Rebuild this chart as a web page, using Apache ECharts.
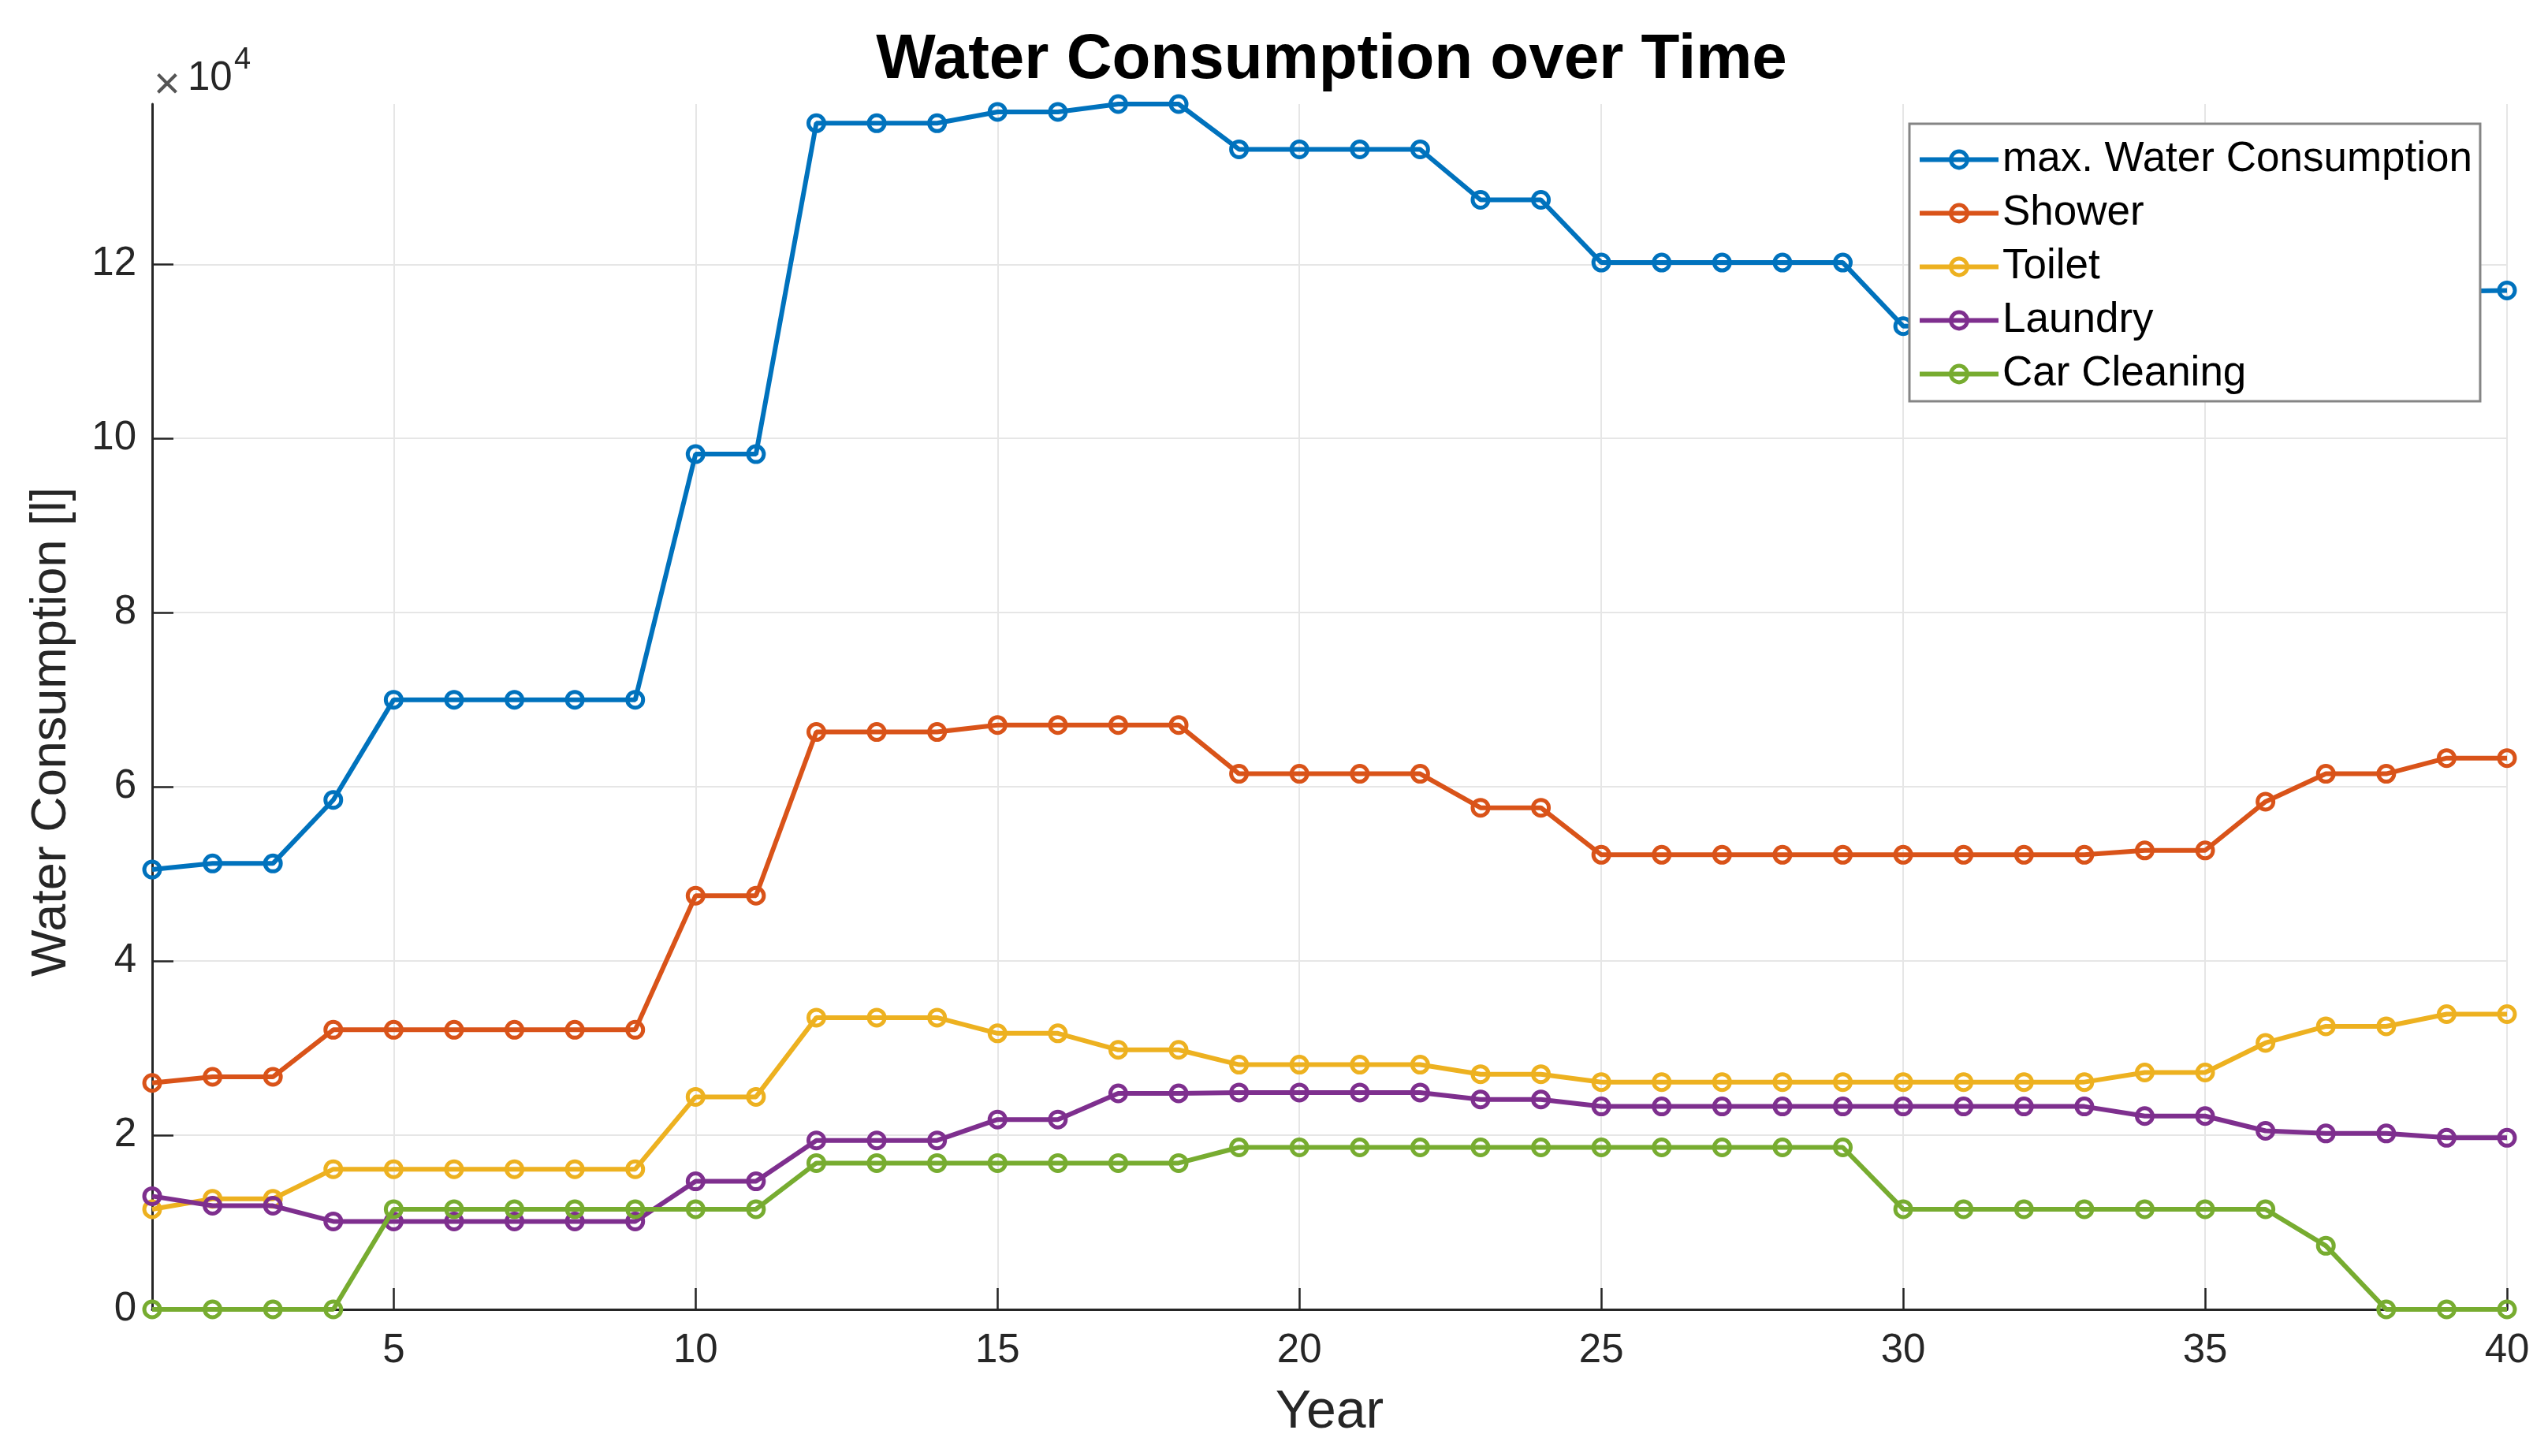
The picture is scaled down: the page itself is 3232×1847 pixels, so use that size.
<!DOCTYPE html>
<html>
<head>
<meta charset="utf-8">
<script src="https://cdn.jsdelivr.net/npm/echarts@6/dist/echarts.min.js"></script>
<style>
html,body{margin:0;padding:0;background:#fff;}
#chart{width:3232px;height:1847px;}
</style>
</head>
<body>
<div id="chart"></div>
<script>
var years = [1,2,3,4,5,6,7,8,9,10,11,12,13,14,15,16,17,18,19,20,21,22,23,24,25,26,27,28,29,30,31,32,33,34,35,36,37,38,39,40];

var maxWater = [50500,51200,51200,58500,70000,70000,70000,70000,70000,98200,98200,136200,136200,136200,137500,137500,138400,138400,133200,133200,133200,133200,127400,127400,120200,120200,120200,120200,120200,112900,113000,113000,113000,113600,113600,120900,121500,114200,116900,117000];

var shower = [26000,26700,26700,32100,32100,32100,32100,32100,32100,47500,47500,66300,66300,66300,67100,67100,67100,67100,61500,61500,61500,61500,57600,57600,52200,52200,52200,52200,52200,52200,52200,52200,52200,52700,52700,58300,61500,61500,63300,63300];

var toilet = [11500,12700,12700,16100,16100,16100,16100,16100,16100,24400,24400,33500,33500,33500,31700,31700,29800,29800,28100,28100,28100,28100,27000,27000,26100,26100,26100,26100,26100,26100,26100,26100,26100,27200,27200,30600,32500,32500,33900,33900];

var laundry = [13000,11900,11900,10100,10100,10100,10100,10100,10100,14700,14700,19400,19400,19400,21800,21800,24800,24800,24900,24900,24900,24900,24100,24100,23300,23300,23300,23300,23300,23300,23300,23300,23300,22200,22200,20500,20200,20200,19700,19700];

var carCleaning = [0,0,0,0,11500,11500,11500,11500,11500,11500,11500,16800,16800,16800,16800,16800,16800,16800,18600,18600,18600,18600,18600,18600,18600,18600,18600,18600,18600,11500,11500,11500,11500,11500,11500,11500,7300,0,0,0];

var yTicks = [0,20000,40000,60000,80000,100000,120000];

var seriesNames = ['max. Water Consumption','Shower','Toilet','Laundry','Car Cleaning'];
var seriesData = [maxWater, shower, toilet, laundry, carCleaning];
var colors = ['#0072BD','#D95319','#EDB120','#7E2F8E','#77AC30'];

var FONT = 'Liberation Sans, Arial, Helvetica, sans-serif';
var AXC = '#262626';

var chart = echarts.init(document.getElementById('chart'), null, {renderer:'canvas'});

var series = seriesNames.map(function(n, i){
  return {
    name: n,
    type: 'line',
    data: seriesData[i],
    symbol: 'circle',
    symbolSize: 20,
    showAllSymbol: true,
    lineStyle: {color: colors[i], width: 6},
    itemStyle: {color: 'rgba(255,255,255,0)', borderColor: colors[i], borderWidth: 5},
    emphasis: {disabled: true},
    z: 2 + i
  };
});

var option = {
  animation: false,
  backgroundColor: '#fff',
  title: {
    text: 'Water Consumption over Time',
    left: 1684,
    textAlign: 'center',
    top: 32,
    textStyle: {fontFamily: FONT, fontSize: 80, fontWeight: 'bold', color: '#000', lineHeight: 80}
  },
  grid: {left: 193, right: 52, top: 132, bottom: 186},
  legend: {
    orient: 'vertical',
    left: 2422,
    top: 157,
    padding: [19, 10, 8, 10],
    itemGap: 15,
    itemWidth: 100,
    itemHeight: 26,
    backgroundColor: '#fff',
    borderColor: '#858585',
    borderWidth: 3,
    borderRadius: 0,
    z: 10,
    lineStyle: {width: 6},
    itemStyle: {borderWidth: 5},
    textStyle: {fontFamily: FONT, fontSize: 53, color: '#000', lineHeight: 52},
    data: seriesNames
  },
  xAxis: {
    type: 'category',
    data: years,
    boundaryGap: false,
    name: 'Year',
    nameLocation: 'middle',
    nameGap: 97,
    nameTextStyle: {fontFamily: FONT, fontSize: 68, color: AXC, lineHeight: 68},
    axisLine: {show: true, lineStyle: {color: AXC, width: 3}},
    axisTick: {show: true, inside: true, length: 27, lineStyle: {color: AXC, width: 2.5},
      interval: function(idx, val){ return Number(val) % 5 === 0; }},
    axisLabel: {fontFamily: FONT, fontSize: 51, color: AXC, margin: 27,
      interval: function(idx, val){ return Number(val) % 5 === 0; }},
    splitLine: {show: true, lineStyle: {color: '#e6e6e6', width: 2},
      interval: function(idx, val){ return Number(val) % 5 === 0; }}
  },
  yAxis: {
    type: 'value',
    min: 0,
    max: 'dataMax',
    interval: 20000,
    name: 'Water Consumption [l]',
    nameLocation: 'middle',
    nameGap: 96,
    nameTextStyle: {fontFamily: FONT, fontSize: 63, color: AXC, lineHeight: 63, padding: [0, 64, 0, 0]},
    axisLine: {show: true, lineStyle: {color: AXC, width: 3}},
    axisTick: {show: true, inside: true, length: 27, lineStyle: {color: AXC, width: 2.5}, customValues: yTicks},
    axisLabel: {fontFamily: FONT, fontSize: 51, color: AXC, margin: 20, customValues: yTicks,
      formatter: function(v){ return String(Math.round(v / 10000)); }},
    splitLine: {show: true, lineStyle: {color: '#e6e6e6', width: 2}}
  },
  graphic: [
    {type: 'text', left: 195, top: 80, z: 100, style: {text: '\u00d7', font: '58px ' + FONT, fill: '#555'}},
    {type: 'text', left: 238, top: 74, z: 100, style: {text: '10', font: '51px ' + FONT, fill: AXC}},
    {type: 'text', left: 297, top: 58, z: 100, style: {text: '4', font: '38px ' + FONT, fill: AXC}}
  ],
  series: series
};

chart.setOption(option);
</script>
</body>
</html>
